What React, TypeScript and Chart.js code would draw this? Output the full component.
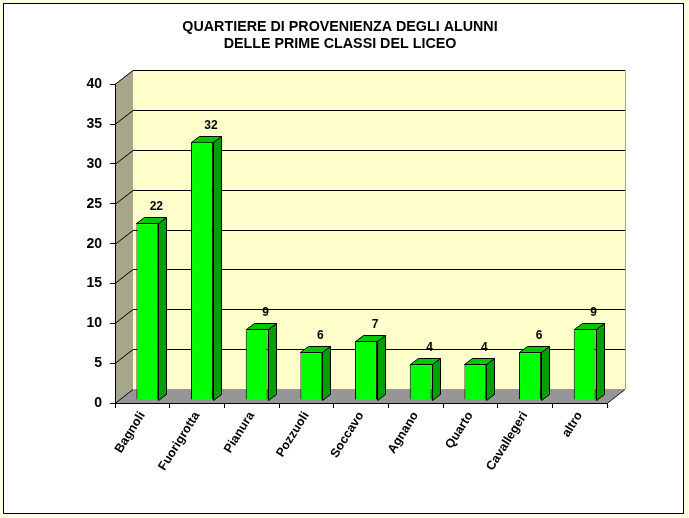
import { useEffect, useRef } from 'react';
import { Chart, registerables } from 'chart.js';

Chart.register(...registerables);

const categories = ['Bagnoli', 'Fuorigrotta', 'Pianura', 'Pozzuoli', 'Soccavo', 'Agnano', 'Quarto', 'Cavallegeri', 'altro'];
// bar heights (they are a bit finer than the printed labels)
const barValues = [22.2, 32.4, 8.9, 6, 7.4, 4.5, 4.5, 6, 8.9];
const printedLabels = ['22', '32', '9', '6', '7', '4', '4', '6', '9'];
const titleLines = ['QUARTIERE DI PROVENIENZA DEGLI ALUNNI', 'DELLE PRIME CLASSI DEL LICEO'];

const FONT = '"Liberation Sans", Arial, sans-serif';
const DEPTH_X = 18;
const DEPTH_Y = 14;
const BAR_SHIFT_X = 5;
const BAR_SHIFT_Y = 3;
const SIDE_X = 8;
const SIDE_Y = 6;

// paints the pseudo 3D room behind the bars
const roomPlugin = {
  id: 'room',
  beforeDraw(chart: any) {
    const { ctx, chartArea: a, scales } = chart;
    ctx.save();
    ctx.fillStyle = '#ffffe1';
    ctx.fillRect(0, 0, chart.width, chart.height);
    ctx.fillStyle = '#ffffff';
    ctx.strokeStyle = '#000000';
    ctx.lineWidth = 1;
    ctx.fillRect(3.5, 3.5, 680, 510);
    ctx.strokeRect(3.5, 3.5, 680, 510);

    // back wall
    ctx.fillStyle = '#ffffcc';
    ctx.fillRect(a.left + DEPTH_X, a.top - DEPTH_Y, a.width, a.height);
    // left wall
    ctx.fillStyle = '#a6a68a';
    ctx.beginPath();
    ctx.moveTo(a.left, a.top);
    ctx.lineTo(a.left + DEPTH_X, a.top - DEPTH_Y);
    ctx.lineTo(a.left + DEPTH_X, a.bottom - DEPTH_Y);
    ctx.lineTo(a.left, a.bottom);
    ctx.closePath();
    ctx.fill();
    // floor
    ctx.fillStyle = '#969696';
    ctx.beginPath();
    ctx.moveTo(a.left, a.bottom);
    ctx.lineTo(a.left + DEPTH_X, a.bottom - DEPTH_Y);
    ctx.lineTo(a.right + DEPTH_X, a.bottom - DEPTH_Y);
    ctx.lineTo(a.right, a.bottom);
    ctx.closePath();
    ctx.fill();
    // right edge of the wall
    ctx.strokeStyle = '#a6a68a';
    ctx.beginPath();
    ctx.moveTo(a.right + DEPTH_X + 0.5, a.top - DEPTH_Y);
    ctx.lineTo(a.right + DEPTH_X + 0.5, a.bottom - DEPTH_Y);
    ctx.stroke();

    // grid lines run along the left wall then across the back
    ctx.strokeStyle = '#000000';
    const yScale = scales.y;
    yScale.ticks.forEach((t: any) => {
      const y = Math.round(yScale.getPixelForValue(t.value)) + 0.5;
      ctx.beginPath();
      ctx.moveTo(a.left, y);
      ctx.lineTo(a.left + DEPTH_X, y - DEPTH_Y);
      if (t.value > 0) ctx.lineTo(a.right + DEPTH_X, y - DEPTH_Y);
      else {
        ctx.moveTo(a.right, y);
        ctx.lineTo(a.right + DEPTH_X, y - DEPTH_Y);
      }
      ctx.stroke();
    });
    ctx.restore();
  },
  beforeDatasetDraw(chart: any) {
    const { ctx } = chart;
    const meta = chart.getDatasetMeta(0);
    ctx.save();
    // side and top faces of each bar
    ctx.translate(BAR_SHIFT_X, -BAR_SHIFT_Y);
    ctx.strokeStyle = '#000000';
    ctx.lineWidth = 1;
    meta.data.forEach((bar: any) => {
      const r = Math.round(bar.x + bar.width / 2) + 0.5;
      const l = Math.round(bar.x - bar.width / 2) + 0.5;
      const t = Math.round(bar.y) + 0.5;
      const b = Math.round(bar.base) + 0.5;
      ctx.fillStyle = '#00a000';
      ctx.beginPath();
      ctx.moveTo(r, t);
      ctx.lineTo(r + SIDE_X, t - SIDE_Y);
      ctx.lineTo(r + SIDE_X, b - SIDE_Y);
      ctx.lineTo(r, b);
      ctx.closePath();
      ctx.fill();
      ctx.stroke();
      ctx.fillStyle = '#00c800';
      ctx.beginPath();
      ctx.moveTo(l, t);
      ctx.lineTo(l + SIDE_X, t - SIDE_Y);
      ctx.lineTo(r + SIDE_X, t - SIDE_Y);
      ctx.lineTo(r, t);
      ctx.closePath();
      ctx.fill();
      ctx.stroke();
    });
    // the front faces are drawn by Chart.js under the same shift
  },
  afterDatasetDraw(chart: any) {
    const { ctx } = chart;
    const meta = chart.getDatasetMeta(0);
    ctx.restore();
    ctx.save();
    ctx.fillStyle = '#000000';
    ctx.font = `bold 12px ${FONT}`;
    ctx.textAlign = 'center';
    ctx.textBaseline = 'alphabetic';
    meta.data.forEach((bar: any, i: number) => {
      ctx.fillText(printedLabels[i], bar.x + BAR_SHIFT_X + SIDE_X + 1, bar.y - 16);
    });
    ctx.restore();
  },
};

export default function App() {
  const canvasRef = useRef<HTMLCanvasElement>(null);

  useEffect(() => {
    document.body.style.margin = '0';
    if (!canvasRef.current) return;
    const chart = new Chart(canvasRef.current, {
      type: 'bar',
      data: {
        labels: categories,
        datasets: [{
          data: barValues,
          backgroundColor: '#00ff00',
          borderColor: '#000000',
          borderWidth: 1,
          barPercentage: 0.4,
          categoryPercentage: 1,
        }],
      },
      options: {
        responsive: false,
        animation: false,
        devicePixelRatio: 1,
        layout: { padding: { top: 18, left: 73, right: 82, bottom: 0 } },
        plugins: {
          legend: { display: false },
          tooltip: { enabled: false },
          title: {
            display: true,
            text: titleLines,
            color: '#000000',
            font: { family: FONT, size: 14.3, weight: 'bold', lineHeight: 1.2 },
            padding: { top: 0, bottom: 32 },
          },
        },
        scales: {
          x: {
            afterFit(scale: any) { scale.height = 115; },
            border: { color: '#000000' },
            grid: { drawOnChartArea: false, color: '#000000', tickLength: 5 },
            ticks: {
              color: '#000000',
              padding: 1,
              font: { family: FONT, size: 12.5, weight: 'bold' },
              minRotation: 58,
              maxRotation: 58,
              autoSkip: false,
            },
          },
          y: {
            min: 0,
            max: 40,
            afterFit(scale: any) { scale.width = 42; },
            border: { color: '#000000' },
            grid: { drawOnChartArea: false, color: '#000000', tickLength: 5 },
            ticks: {
              stepSize: 5,
              color: '#000000',
              padding: 8,
              font: { family: FONT, size: 14, weight: 'bold' },
            },
          },
        },
      },
      plugins: [roomPlugin],
    });
    return () => chart.destroy();
  }, []);

  return <canvas ref={canvasRef} width={689} height={518} style={{ display: 'block' }} />;
}
